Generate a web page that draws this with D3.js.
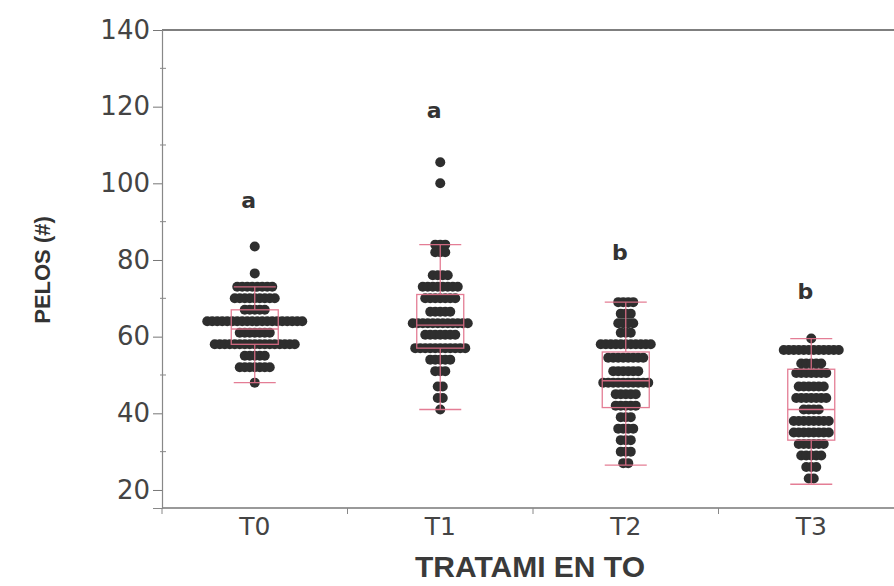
<!DOCTYPE html>
<html>
<head>
<meta charset="utf-8">
<script src="https://cdn.jsdelivr.net/npm/d3@7"></script>
<style>
  body { margin: 0; background: #fff; }
  svg { display: block; }
</style>
</head>
<body>
<script>
// groups and letters of significance
const groups = ["T0", "T1", "T2", "T3"];
const letters = ["a", "a", "b", "b"];
const letterAt = [95, 118.5, 81.5, 71.5];

// dot rows per group: value and number of dots stacked on that row
const t0Values = [83.5, 76.5, 73, 70, 67, 64, 61, 58, 55, 52, 48];
const t0Counts = [1, 1, 8, 9, 5, 20, 7, 17, 5, 7, 1];
const t1Values = [105.5, 100, 84, 82, 76, 73, 70, 66.5, 63.5, 60.5, 57, 54, 51, 47, 44, 41];
const t1Counts = [1, 1, 3, 3, 4, 8, 7, 5, 12, 7, 11, 5, 3, 2, 2, 1];
const t2Values = [69, 66, 63.5, 61, 58, 54.5, 51, 48, 45, 42, 39, 36, 33, 30, 27];
const t2Counts = [4, 3, 4, 3, 11, 8, 6, 10, 5, 5, 3, 4, 3, 3, 2];
const t3Values = [59.5, 56.5, 53, 50.5, 47, 44, 41, 38, 35, 32, 29, 26, 23];
const t3Counts = [1, 12, 5, 7, 6, 7, 4, 8, 8, 6, 5, 3, 2];

// box plot stats
const whiskerLow = [48, 41, 26.5, 21.5];
const q1 = [58, 57, 41.5, 33];
const median = [62, 63, 48.5, 41];
const q3 = [67, 71, 56, 51.5];
const whiskerHigh = [73, 84, 69, 59.5];

const yTicks = [20, 40, 60, 80, 100, 120, 140];
const yMinor = [30, 50, 70, 90, 110, 130];

const W = 894, H = 586;
const dotR = 5, dotStep = 5;

const rows = [
  [t0Values, t0Counts], [t1Values, t1Counts],
  [t2Values, t2Counts], [t3Values, t3Counts]
];

var svg = d3.select("body").append("svg")
  .attr("width", W).attr("height", H);

var x = d3.scaleBand().domain(groups).range([162, 904]);
var y = d3.scaleLinear().domain([15.3, 140]).range([508, 30]);

// frame lines
svg.append("line")
  .attr("x1", 162).attr("x2", W).attr("y1", y(140)).attr("y2", y(140))
  .attr("stroke", "#555").attr("stroke-width", 1.3);
svg.append("line")
  .attr("x1", 162).attr("x2", W).attr("y1", y(15.3)).attr("y2", y(15.3))
  .attr("stroke", "#777").attr("stroke-width", 1.3);

// y axis
var yAxis = svg.append("g")
  .attr("transform", "translate(162,0)")
  .call(d3.axisLeft(y).tickValues(yTicks).tickSize(9).tickPadding(3));
yAxis.select(".domain").attr("stroke", "#888").attr("stroke-width", 1.2);
yAxis.selectAll(".tick line").attr("stroke", "#777");
yAxis.selectAll(".tick text")
  .attr("font-family", "DejaVu Sans")
  .attr("font-size", 26)
  .attr("fill", "#444");

svg.append("g").selectAll("line")
  .data(yMinor)
  .join("line")
    .attr("x1", 160).attr("x2", 166)
    .attr("y1", d => y(d)).attr("y2", d => y(d))
    .attr("stroke", "#888");

// x axis: labels at centres, ticks on band edges
var xAxis = svg.append("g")
  .attr("transform", `translate(0,${y(15.3)})`)
  .call(d3.axisBottom(x).tickSize(0).tickPadding(9));
xAxis.select(".domain").remove();
xAxis.selectAll(".tick text")
  .attr("font-family", "DejaVu Sans")
  .attr("font-size", 25)
  .attr("fill", "#444");

svg.append("g").selectAll("line")
  .data(groups)
  .join("line")
    .attr("x1", d => x(d)).attr("x2", d => x(d))
    .attr("y1", y(15.3)).attr("y2", y(15.3) + 6)
    .attr("stroke", "#888");

// axis titles
svg.append("text")
  .attr("transform", "translate(50,270) rotate(-90)")
  .attr("text-anchor", "middle")
  .attr("font-family", "Liberation Sans")
  .attr("font-weight", "bold")
  .attr("font-size", 22)
  .attr("fill", "#333")
  .text("PELOS (#)");

svg.append("text")
  .attr("x", 530).attr("y", 577)
  .attr("text-anchor", "middle")
  .attr("font-family", "Liberation Sans")
  .attr("font-weight", "bold")
  .attr("font-size", 30)
  .attr("fill", "#3a3a3a")
  .text("TRATAMI EN TO");

// dots
var cx = g => x(g) + x.bandwidth() / 2;
var dots = [];
groups.forEach((g, gi) => {
  var vals = rows[gi][0], cnts = rows[gi][1];
  vals.forEach((v, i) => {
    for (var k = 0; k < cnts[i]; k++) {
      dots.push({ g: g, v: v, off: (k - (cnts[i] - 1) / 2) * dotStep });
    }
  });
});

svg.append("g").selectAll("circle")
  .data(dots)
  .join("circle")
    .attr("cx", d => cx(d.g) + d.off)
    .attr("cy", d => y(d.v))
    .attr("r", dotR)
    .attr("fill", "#2e2e2e");

// box plots
var boxW = 47, capW = 42, pink = "#e2708a";
var box = svg.append("g").selectAll("g")
  .data(groups)
  .join("g")
    .attr("stroke", pink)
    .attr("stroke-width", 1.3)
    .attr("fill", "none")
    .attr("opacity", 0.9);

box.append("rect")
  .attr("x", d => cx(d) - boxW / 2)
  .attr("width", boxW)
  .attr("y", (d, i) => y(q3[i]))
  .attr("height", (d, i) => y(q1[i]) - y(q3[i]));
box.append("line")
  .attr("x1", d => cx(d) - boxW / 2).attr("x2", d => cx(d) + boxW / 2)
  .attr("y1", (d, i) => y(median[i])).attr("y2", (d, i) => y(median[i]));
box.append("line")
  .attr("x1", d => cx(d)).attr("x2", d => cx(d))
  .attr("y1", (d, i) => y(whiskerHigh[i])).attr("y2", (d, i) => y(q3[i]));
box.append("line")
  .attr("x1", d => cx(d)).attr("x2", d => cx(d))
  .attr("y1", (d, i) => y(q1[i])).attr("y2", (d, i) => y(whiskerLow[i]));
box.append("line")
  .attr("x1", d => cx(d) - capW / 2).attr("x2", d => cx(d) + capW / 2)
  .attr("y1", (d, i) => y(whiskerHigh[i])).attr("y2", (d, i) => y(whiskerHigh[i]));
box.append("line")
  .attr("x1", d => cx(d) - capW / 2).attr("x2", d => cx(d) + capW / 2)
  .attr("y1", (d, i) => y(whiskerLow[i])).attr("y2", (d, i) => y(whiskerLow[i]));

// letters
svg.append("g").selectAll("text")
  .data(groups)
  .join("text")
    .attr("x", d => cx(d) - 6)
    .attr("y", (d, i) => y(letterAt[i]))
    .attr("text-anchor", "middle")
    .attr("dominant-baseline", "middle")
    .attr("font-family", "DejaVu Sans")
    .attr("font-weight", "bold")
    .attr("font-size", 22)
    .attr("fill", "#333")
    .text((d, i) => letters[i]);
</script>
</body>
</html>
